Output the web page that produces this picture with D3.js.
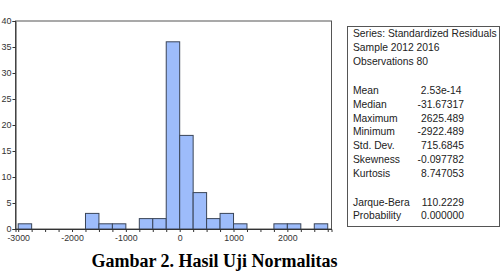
<!DOCTYPE html>
<html>
<head>
<meta charset="utf-8">
<script src="https://cdn.jsdelivr.net/npm/d3@7"></script>
<style>
  body { margin: 0; background: #fff; }
  svg { display: block; }
</style>
</head>
<body>
<svg width="504" height="273"></svg>
<script>
// histogram bins: start of each bin (width 250) and its count
var binStarts = [-3000, -2750, -2500, -2250, -2000, -1750, -1500, -1250, -1000, -750, -500, -250,
                 0, 250, 500, 750, 1000, 1250, 1500, 1750, 2000, 2250, 2500];
var counts = [1, 0, 0, 0, 0, 3, 1, 1, 0, 2, 2, 36, 18, 7, 2, 3, 1, 0, 0, 1, 1, 0, 1];
var binWidth = 250;

var yTicks = [0, 5, 10, 15, 20, 25, 30, 35, 40];
var xTicks = [-3000, -2000, -1000, 0, 1000, 2000];

var statLabels = ["Mean", "Median", "Maximum", "Minimum", "Std. Dev.", "Skewness", "Kurtosis"];
var statValues = ["2.53e-14", "-31.67317", "2625.489", "-2922.489", "715.6845", "-0.097782", "8.747053"];
var testLabels = ["Jarque-Bera", "Probability"];
var testValues = ["110.2229", "0.000000"];
var headerLines = ["Series: Standardized Residuals", "Sample 2012 2016", "Observations 80"];

var caption = "Gambar 2. Hasil Uji Normalitas";

var svg = d3.select("svg");

var plotL = 15.5, plotR = 331.5, plotT = 21, plotB = 229;

var x = d3.scaleLinear().domain([-3050, 2820]).range([plotL, plotR]);
var y = d3.scaleLinear().domain([0, 40]).range([plotB, plotT]);

var sans = "Liberation Sans, Arial, sans-serif";

// frame
svg.append("rect")
    .attr("x", plotL).attr("y", plotT)
    .attr("width", plotR - plotL).attr("height", plotB - plotT)
    .attr("fill", "#fff")
    .attr("stroke", "#555").attr("stroke-width", 1);

// bars
svg.selectAll("rect.bar")
    .data(counts.map(function(c, i) { return { x0: binStarts[i], n: c }; }).filter(function(d) { return d.n > 0; }))
    .enter().append("rect")
    .attr("class", "bar")
    .attr("x", function(d) { return x(d.x0); })
    .attr("y", function(d) { return y(d.n); })
    .attr("width", function(d) { return x(d.x0 + binWidth) - x(d.x0); })
    .attr("height", function(d) { return y(0) - y(d.n); })
    .attr("fill", "#9dbcfb")
    .attr("stroke", "#3a4558")
    .attr("stroke-width", 1);

// axes
var yAxis = d3.axisLeft(y).tickValues(yTicks).tickSize(3).tickPadding(1);
var gy = svg.append("g").attr("transform", "translate(" + plotL + ",0)").call(yAxis);
gy.select(".domain").attr("stroke", "#333");
gy.selectAll("line").attr("stroke", "#333");
gy.selectAll("text").attr("font-family", sans).attr("font-size", 9).attr("fill", "#333");

var minorTicks = d3.range(-3000, 2751, 250);
var xAxis = d3.axisBottom(x).tickValues(minorTicks).tickSize(3).tickPadding(3)
    .tickFormat(function(d) { return xTicks.indexOf(d) >= 0 ? d : ""; });
var gx = svg.append("g").attr("transform", "translate(0," + plotB + ")").call(xAxis);
gx.select(".domain").attr("stroke", "#333");
gx.selectAll("line").attr("stroke", "#333");
gx.selectAll("text").attr("font-family", sans).attr("font-size", 8.8).attr("fill", "#333");

// statistics box
var box = svg.append("g");
box.append("rect")
    .attr("x", 347.5).attr("y", 26.5).attr("width", 152).attr("height", 200)
    .attr("fill", "#fff").attr("stroke", "#555").attr("stroke-width", 1);

var fs = 10.3;
var lineH = 13.75;
var labelX = 353;
var valueX = 464;

box.selectAll("text.hdr").data(headerLines).enter().append("text")
    .attr("x", labelX).attr("y", function(d, i) { return 37 + i * lineH; })
    .attr("font-family", sans).attr("font-size", fs).attr("fill", "#222")
    .text(function(d) { return d; });

statLabels.forEach(function(lab, i) {
  var yy = 94 + i * lineH;
  box.append("text").attr("x", labelX).attr("y", yy)
      .attr("font-family", sans).attr("font-size", fs).attr("fill", "#222").text(lab);
  box.append("text").attr("x", i === 0 ? valueX - 2.5 : valueX).attr("y", yy)
      .attr("text-anchor", "end")
      .attr("font-family", sans).attr("font-size", fs).attr("fill", "#222").text(statValues[i]);
});

testLabels.forEach(function(lab, i) {
  var yy = 205.5 + i * lineH;
  box.append("text").attr("x", labelX).attr("y", yy)
      .attr("font-family", sans).attr("font-size", fs).attr("fill", "#222").text(lab);
  box.append("text").attr("x", valueX).attr("y", yy)
      .attr("text-anchor", "end")
      .attr("font-family", sans).attr("font-size", fs).attr("fill", "#222").text(testValues[i]);
});

// caption
svg.append("text")
    .attr("x", 214.5).attr("y", 267)
    .attr("text-anchor", "middle")
    .attr("font-family", "Liberation Serif, Times New Roman, serif")
    .attr("font-weight", "bold").attr("font-size", 18)
    .attr("fill", "#000")
    .text(caption);
</script>
</body>
</html>
